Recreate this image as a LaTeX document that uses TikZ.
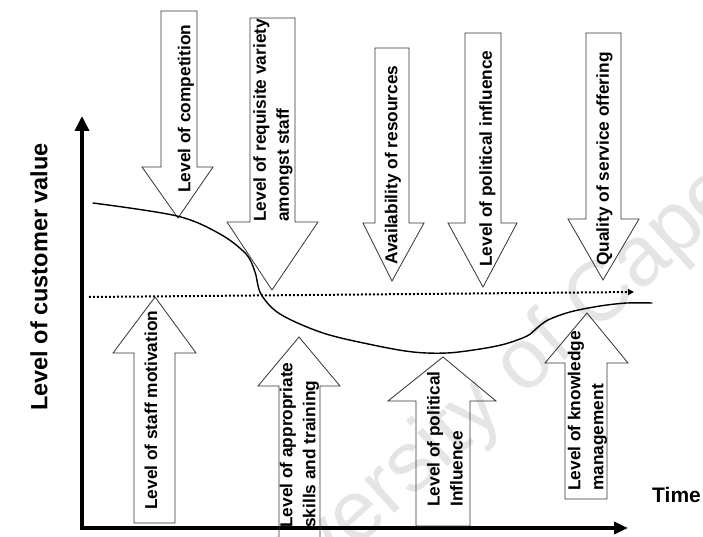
\documentclass[tikz,border=0pt]{standalone}
\usepackage{fontspec}
\setmainfont{Liberation Sans}
\usetikzlibrary{arrows.meta}
\begin{document}
\begin{tikzpicture}[x=1pt,y=-1pt,
  blockarrow/.style={draw=black!80, line width=0.8pt, line join=miter},
  boxlabel/.style={font=\fontsize{17.3}{23}\selectfont\bfseries, rotate=90,
    anchor=west, inner sep=0pt, align=left},
  axislabel/.style={font=\fontsize{21}{24}\selectfont\bfseries, inner sep=0pt},
  axisline/.style={line width=3.5pt},
  trend/.style={line width=1.4pt, line cap=round},
  reflevel/.style={line width=2pt, dash pattern=on 1.8pt off 2.2pt,
    -{Triangle[length=6pt,width=6pt]}},
  stamp/.style={font=\fontsize{85}{90}\selectfont, text=black!10, rotate=42, inner sep=0pt}
]
\useasboundingbox (0,0) rectangle (703,537);
\clip (0,0) rectangle (703,537);

% faint stamp across the page
\node[stamp] (wm) at (555,340) {University of Cape Town};

% axes
\coordinate (O) at (82,528);
\coordinate (ytip) at (82,116);
\coordinate (xtip) at (628,528);
\draw[axisline, -{Triangle[length=15pt,width=14pt]}] (O) -- (ytip);
\draw[axisline, -{Triangle[length=14pt,width=12pt]}] ([xshift=-1.75pt]O) -- (xtip);

\node[axislabel, font=\fontsize{23.5}{26}\selectfont\bfseries, rotate=90] (ylab)
  at (39,277) {Level of customer value};
\node[axislabel, anchor=west] (xlab) at (652,495) {Time};

% forces pushing value down
\draw[blockarrow] (161,11) -- (197,11) -- (197,167) -- (213,167) -- (178,218)
  -- (142,167) -- (161,167) -- cycle;
\draw[blockarrow] (250,18) -- (295,18) -- (295,222) -- (318,222) -- (272,290)
  -- (227,222) -- (250,222) -- cycle;
\draw[blockarrow] (375,48) -- (409,48) -- (409,223) -- (424,223) -- (392,281)
  -- (363,223) -- (375,223) -- cycle;
\draw[blockarrow] (465,33) -- (501,33) -- (501,223) -- (517,223) -- (483,287)
  -- (448,223) -- (465,223) -- cycle;
\draw[blockarrow] (586,33) -- (621,33) -- (621,219) -- (639,219) -- (603,280)
  -- (568,219) -- (586,219) -- cycle;

\node[boxlabel] (competition) at (186,193) {Level of competition};
\node[boxlabel] (variety) at (273,222) {Level of requisite variety\\amongst staff};
\node[boxlabel] (resources) at (393,265) {Availability of resources};
\node[boxlabel] (politicsdown) at (487.5,267) {Level of political influence};
\node[boxlabel] (service) at (604.5,266) {Quality of service offering};

% forces pushing value up
\draw[blockarrow] (134,523) -- (134,353) -- (113,353) -- (155,297) -- (196,353)
  -- (175,353) -- (175,523) -- cycle;
\draw[blockarrow] (279,545) -- (279,386) -- (258,386) -- (299,337) -- (340,386)
  -- (320,386) -- (320,545);
\draw[blockarrow] (416,526) -- (416,401) -- (388,401) -- (443,357) -- (496,401)
  -- (470,401) -- (470,526) -- cycle;
\draw[blockarrow] (565,499) -- (565,363) -- (545,363) -- (587,313) -- (628,363)
  -- (607,363) -- (607,499) -- cycle;

\node[boxlabel] (motivation) at (151,510) {Level of staff motivation};
\node[boxlabel] (skills) at (299.5,528) {Level of appropriate\\skills and training};
\node[boxlabel] (politicsup) at (445,507) {Level of political\\Influence};
\node[boxlabel] (knowledge) at (587.5,491) {Level of knowledge\\management};

% reference level and customer value over time
\coordinate (refstart) at (89,297);
\coordinate (refend) at (634,292);
\draw[reflevel] (refstart) -- (refend);

\draw[trend] plot[smooth, tension=0.55] coordinates {
  (93,203) (177,216) (220,234) (246,254) (255,272) (261,294) (280,314)
  (323,333) (373,345) (413,352) (447,353) (480,349) (505,344) (527,336)
  (537,328) (548,320) (570,312) (600,306) (627,303) (652,303)};
\end{tikzpicture}
\end{document}
